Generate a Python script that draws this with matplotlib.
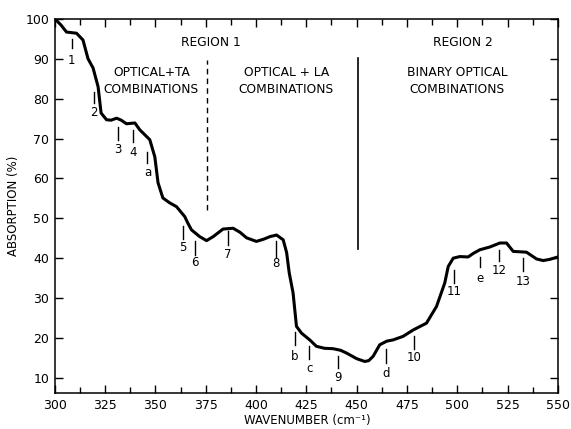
import matplotlib.pyplot as plt
import numpy as np

# absorption curve
wave = [300, 303, 305.8, 310.8, 314, 316.5, 319, 321.5, 323, 325.7, 328, 330.7, 333,
        335.6, 339.8, 342.2, 347.2, 349.7, 351.3, 353.7, 357, 360.5, 364.6, 366, 367.9,
        372, 375.4, 378.7, 383.6, 388.6, 392, 395.3, 400.2, 404, 406.9, 410.2, 413.5,
        415.2, 416.5, 418.4, 420.1, 422.6, 426.7, 430, 434, 438.3, 442, 445, 450, 454,
        456, 458.2, 461.5, 465, 468.1, 473.1, 478.1, 484.7, 489.7, 493.8, 495.5, 498,
        501.3, 505.4, 508, 511.2, 516.2, 521.2, 524.5, 527.8, 534.4, 539.4, 542.7, 546, 550]
absorb = [100, 98.5, 96.7, 96.4, 94.7, 90, 87.7, 83, 76.4, 74.7, 74.6, 75.1, 74.6,
          73.7, 73.9, 72.2, 69.7, 65.4, 58.9, 55.1, 53.9, 52.9, 50.4, 48.9, 47.1,
          45.4, 44.4, 45.4, 47.3, 47.5, 46.5, 45.1, 44.2, 44.8, 45.4, 45.8, 44.6,
          41.4, 36.3, 31.3, 22.9, 21.2, 19.5, 17.9, 17.4, 17.3, 16.9, 16.2, 14.8, 14.1,
          14.3, 15.4, 18.3, 19.2, 19.5, 20.4, 22, 23.7, 27.9, 33.8, 37.9, 40,
          40.4, 40.3, 41.2, 42.1, 42.8, 43.8, 43.8, 41.7, 41.5, 39.8, 39.4, 39.7, 40.3]

# peak markers: label, position, tick top, tick bottom, label y
mk_labels = ['1', '2', '3', '4', 'a', '5', '6', '7', '8', 'b', 'c', '9', 'd', '10', '11', 'e', '12', '13']
mk_x = [308.4, 319.5, 331.2, 339, 346, 363.5, 369.6, 386.1, 409.7, 419.3, 426.4, 440.5,
        464.8, 478.6, 498.3, 511.2, 520.9, 532.5]
mk_top = [95, 81.7, 73, 72.2, 66.7, 48, 44.2, 46.7, 44.2, 21.6, 17.9, 15.5, 17.2, 20.6, 37.1, 40.4, 42.1, 40]
mk_bot = [92.7, 79, 69.7, 69.2, 63.9, 44.9, 40.9, 43.4, 40.4, 18.3, 14.8, 12.4, 13.7, 17.2, 33.8, 37.9, 39.2, 36.7]
mk_text_y = [89.5, 76.4, 67.2, 66.4, 61.4, 42.6, 38.8, 40.9, 38.6, 15.3, 12.3, 10.2, 11.2, 15, 31.7, 35, 36.9, 34.2]

fig = plt.figure(figsize=(5.71, 4.29), dpi=100)
ax = fig.add_axes([0.096, 0.084, 0.881, 0.872])

ax.plot(wave, absorb, color='black', lw=2.2, solid_joinstyle='round', solid_capstyle='round')

for lab, x, t, b, ty in zip(mk_labels, mk_x, mk_top, mk_bot, mk_text_y):
    ax.plot([x, x], [b, t], color='black', lw=1.0)
    ax.text(x, ty, lab, ha='center', va='center', fontsize=8.5)

# region dividers
ax.plot([375.4, 375.4], [52, 89.6], color='black', lw=1.0, ls=(0, (4, 3)))
ax.plot([450.7, 450.7], [42.3, 90.1], color='black', lw=1.2)

tkw = dict(ha='center', va='center', fontsize=8.8)
ax.text(377.5, 94, 'REGION 1', **tkw)
ax.text(503, 94, 'REGION 2', **tkw)
ax.text(348, 84.5, 'OPTICAL+TA\nCOMBINATIONS', linespacing=1.4, **tkw)
ax.text(415, 84.5, 'OPTICAL + LA\nCOMBINATIONS', linespacing=1.4, **tkw)
ax.text(500, 84.5, 'BINARY OPTICAL\nCOMBINATIONS', linespacing=1.4, **tkw)

ax.set_xlim(300, 550)
ax.set_ylim(6.2, 100)
ax.set_xticks(np.arange(300, 551, 25))
ax.set_xticks(np.arange(312.5, 550, 25), minor=True)
ax.set_yticks(np.arange(10, 101, 10))
ax.tick_params(direction='in', top=True, right=True, labelsize=9, length=6, width=1, pad=4)
ax.tick_params(which='minor', direction='in', top=True, length=4, width=1)
for s in ax.spines.values():
    s.set_linewidth(1.1)

fig.text(0.539, 0.02, 'WAVENUMBER (cm\u207b\u00b9)', ha='center', va='center', fontsize=8.5)
ax.set_ylabel('ABSORPTION (%)', fontsize=8.5, labelpad=4)

fig.savefig('out.png', dpi=100)
